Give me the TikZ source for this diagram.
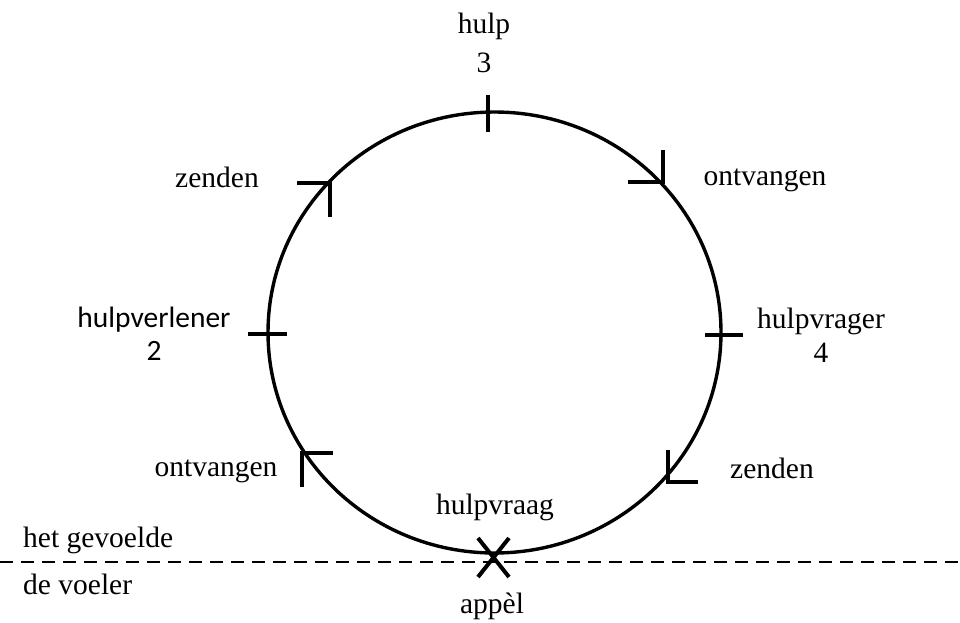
\documentclass[tikz,border=0pt]{standalone}
\usepackage{fontspec}
\setmainfont{Liberation Serif}
\newfontfamily\calib{Carlito}
\begin{document}
\begin{tikzpicture}[x=1pt,y=-1pt,line cap=butt,
  lbl/.style={anchor=base,inner sep=0pt,font=\fontsize{29.5}{29.5}\selectfont},
  slbl/.style={lbl,font=\fontsize{29.5}{29.5}\selectfont\calib},
  haak/.style={line width=3.2pt},
  streep/.style={line width=3.5pt}]
  \useasboundingbox (0,0) rectangle (960,622);
  % ── cirkel (met de klok mee) ──
  \draw[line width=3.4pt] (494.5,332.5) ellipse [x radius=226.5, y radius=220.5];
  % ── streepjes op de cirkel ──
  \draw[streep] (488,95) -- (488,132);
  \draw[streep] (248,334) -- (287,334);
  \draw[streep] (705,335) -- (743,335);
  % ── haken als pijlpunten ──
  \foreach \x/\y/\dx/\dy in {330/183/-33/34, 663/182/-35/-32, 668/482/30/-32, 302/453/31/34}
    \draw[haak] (\x+\dx,\y) -- (\x,\y) -- (\x,\y+\dy);
  % ── kruis onderaan ──
  \draw[line width=4pt] (478,538) -- (509,577) (509,538) -- (478,577);
  % ── stippellijn ──
  \draw[line width=2.5pt, dash pattern=on 13pt off 8pt] (0,562) -- (960,562);
  % ── teksten ──
  \node[lbl] (hulp) at (484,33) {hulp};
  \node[lbl] (drie) at (484,72) {3};
  \node[slbl] (verlener) at (154,327) {hulpverlener};
  \node[slbl] (twee) at (154,360) {2};
  \node[lbl] (vrager) at (821,328) {hulpvrager};
  \node[lbl] (vier) at (821,362) {4};
  \node[lbl] (zendenL) at (217,187) {zenden};
  \node[lbl] (ontvR) at (765,185) {ontvangen};
  \node[lbl] (ontvL) at (216,476) {ontvangen};
  \node[lbl] (zendenR) at (772,478) {zenden};
  \node[lbl] (vraag) at (495,514) {hulpvraag};
  \node[lbl] (appel) at (492,613) {appèl};
  \node[lbl, anchor=base west] (gevoelde) at (23,547) {het gevoelde};
  \node[lbl, anchor=base west] (voeler) at (23,594) {de voeler};
\end{tikzpicture}
\end{document}
